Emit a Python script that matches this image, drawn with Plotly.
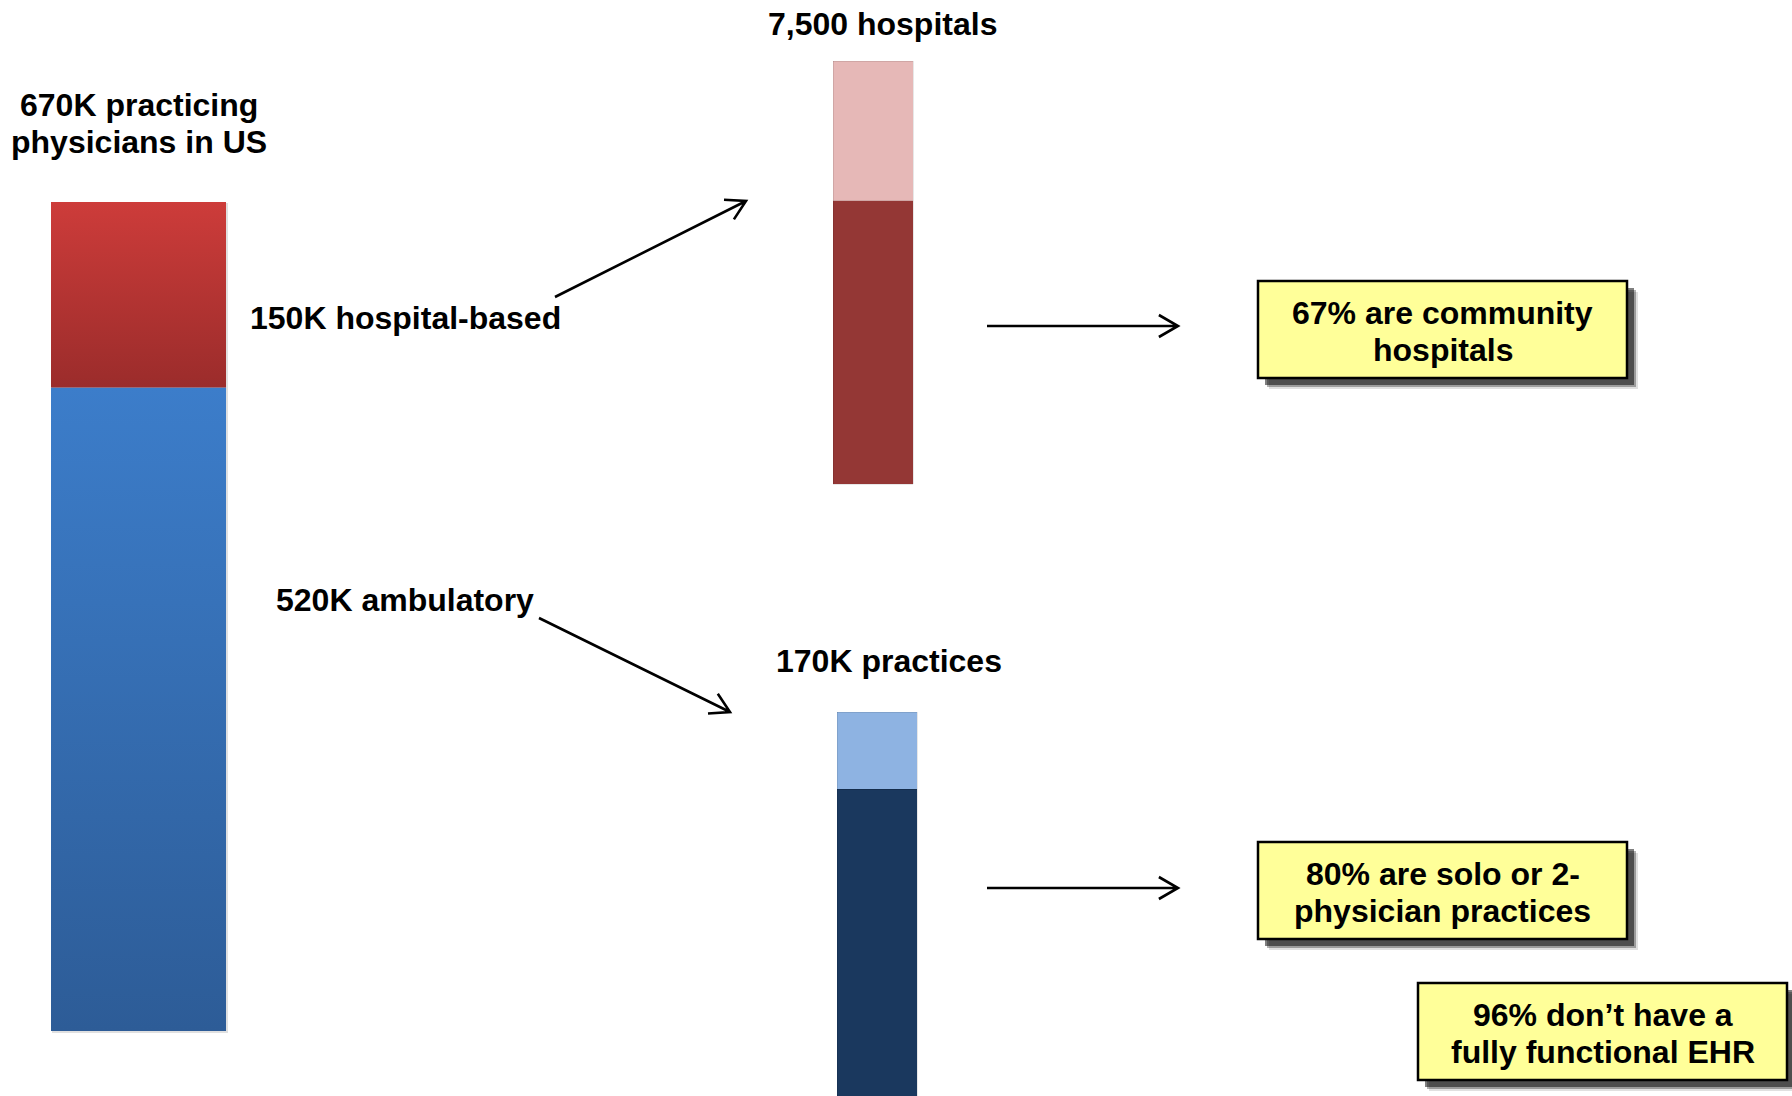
import math
import plotly.graph_objects as go

W, H = 1792, 1096

# ---------------- data ----------------
physician_segments = ["520K ambulatory", "150K hospital-based"]
physician_values = [520, 150]            # thousands of physicians (bottom -> top)
hospital_segments = ["Community hospitals", "Other hospitals"]
hospital_values = [5025, 2475]           # hospitals (67% community of 7,500)
practice_segments = ["Solo or 2-physician practices", "Other practices"]
practice_values = [136, 34]              # thousands of practices (80% of 170K)

title_physicians = ["670K practicing", "physicians in US"]
title_hospitals = "7,500 hospitals"
title_practices = "170K practices"
label_hospital_based = "150K hospital-based"
label_ambulatory = "520K ambulatory"
box_texts = [
    ["67% are community", "hospitals"],
    ["80% are solo or 2-", "physician practices"],
    ["96% don\u2019t have a", "fully functional EHR"],
]

# ---------------- styles / layout constants (pixels) ----------------
FONT = "Arial, Liberation Sans, Helvetica, sans-serif"
phys_grad = [("#2D5C97", "#3C7DCA"), ("#9B2C2B", "#CD3C3A")]   # (bottom, top)
hosp_colors = ["#943735", "#E6B8B7"]
prac_colors = ["#1A385E", "#8EB3E2"]

LEFT_X0, LEFT_X1, LEFT_BASE, LEFT_TOP = 51, 226, 1031, 202
HOSP_XC, HOSP_W, HOSP_BASE, HOSP_TOP = 873, 80, 484, 61
PRAC_XC, PRAC_W, PRAC_BASE, PRAC_TOP = 877, 80, 1097, 712
LINE_GAP = 37


def axis_range(total, base_px, top_px):
    k = (base_px - top_px) / total
    return [-(H - base_px) / k, base_px / k]


fig = go.Figure()

# left bar: stacked segments with vertical gradient
cum = 0
for name, val, (cb, ct) in zip(physician_segments, physician_values, phys_grad):
    y0, y1 = cum, cum + val
    fig.add_trace(go.Scatter(
        x=[LEFT_X0, LEFT_X1, LEFT_X1, LEFT_X0, LEFT_X0],
        y=[y0, y0, y1, y1, y0],
        mode="lines", fill="toself",
        fillgradient=dict(type="vertical", colorscale=[[0, cb], [1, ct]]),
        line=dict(width=0, color="rgba(0,0,0,0)"),
        name=name, showlegend=False, hoverinfo="name",
        yaxis="y",
    ))
    cum = y1

# hospital bar
for name, val, c in zip(hospital_segments, hospital_values, hosp_colors):
    fig.add_trace(go.Bar(
        x=[HOSP_XC], y=[val], width=[HOSP_W], name=name,
        marker=dict(color=c, line=dict(width=0.8, color="rgba(0,0,0,0.12)")),
        showlegend=False, yaxis="y2",
    ))

# practice bar
for name, val, c in zip(practice_segments, practice_values, prac_colors):
    fig.add_trace(go.Bar(
        x=[PRAC_XC], y=[val], width=[PRAC_W], name=name,
        marker=dict(color=c, line=dict(width=0.8, color="rgba(0,0,0,0.12)")),
        showlegend=False, yaxis="y3",
    ))

shapes = []

# soft shadow for left bar
shapes.append(dict(type="rect", xref="x", yref="y4",
                   x0=LEFT_X0 + 1, x1=LEFT_X1 + 2, y0=LEFT_TOP + 1, y1=LEFT_BASE + 2,
                   fillcolor="rgba(0,0,0,0.12)", line=dict(width=0), layer="below"))


def arrow(x0, y0, x1, y1, L=22, ang=30):
    dx, dy = x1 - x0, y1 - y0
    n = math.hypot(dx, dy)
    ux, uy = -dx / n, -dy / n
    a = math.radians(ang)
    w = []
    for s in (1, -1):
        c, si = math.cos(s * a), math.sin(s * a)
        w.append((x1 + L * (ux * c - uy * si), y1 + L * (ux * si + uy * c)))
    path = (f"M {x0},{y0} L {x1},{y1} M {w[0][0]:.1f},{w[0][1]:.1f} "
            f"L {x1},{y1} L {w[1][0]:.1f},{w[1][1]:.1f}")
    return dict(type="path", xref="x", yref="y4", path=path,
                line=dict(color="black", width=2.6))


shapes.append(arrow(555, 297, 746, 201))
shapes.append(arrow(539, 618, 730, 712))
shapes.append(arrow(987, 326, 1178, 326))
shapes.append(arrow(987, 888, 1178, 888))

boxes = [(1258, 1627, 281, 378), (1258, 1627, 842, 939), (1418, 1787, 983, 1080)]
for (bx0, bx1, by0, by1) in boxes:
    for off, alpha in ((11, 0.12), (9, 0.3), (7, 0.5)):
        shapes.append(dict(type="rect", xref="x", yref="y4",
                           x0=bx0 + off, x1=bx1 + off, y0=by0 + off, y1=by1 + off,
                           fillcolor=f"rgba(0,0,0,{alpha})", line=dict(width=0)))
    shapes.append(dict(type="rect", xref="x", yref="y4",
                       x0=bx0, x1=bx1, y0=by0, y1=by1,
                       fillcolor="#FFFF99", line=dict(color="black", width=2.5)))

annotations = []


def txt(text, x, y, xanchor="center"):
    annotations.append(dict(text=text, x=x, y=y, xref="x", yref="y4",
                            xanchor=xanchor, yanchor="middle", showarrow=False,
                            align="center",
                            font=dict(family=FONT, size=32, color="black", weight="bold")))


def lines(parts, x, yc):
    n = len(parts)
    for i, p in enumerate(parts):
        txt(p, x, yc + (i - (n - 1) / 2) * LINE_GAP)


lines(title_physicians, 138.5, 123)
txt(title_hospitals, 882, 24)
txt(title_practices, 889, 661)
txt(label_hospital_based, 248, 318, xanchor="left")
txt(label_ambulatory, 274, 600, xanchor="left")
for (bx0, bx1, by0, by1), t in zip(boxes, box_texts):
    lines(t, (bx0 + bx1) / 2, (by0 + by1) / 2 + 2)

hidden = dict(visible=False, showgrid=False, zeroline=False, fixedrange=True)
fig.update_layout(
    width=W, height=H,
    margin=dict(l=0, r=0, t=0, b=0),
    paper_bgcolor="white", plot_bgcolor="white",
    barmode="stack", showlegend=False,
    xaxis=dict(range=[0, W], **hidden),
    yaxis=dict(range=axis_range(sum(physician_values), LEFT_BASE, LEFT_TOP), **hidden),
    yaxis2=dict(range=axis_range(sum(hospital_values), HOSP_BASE, HOSP_TOP),
                overlaying="y", **hidden),
    yaxis3=dict(range=axis_range(sum(practice_values), PRAC_BASE, PRAC_TOP),
                overlaying="y", **hidden),
    yaxis4=dict(range=[H, 0], overlaying="y", **hidden),
    shapes=shapes,
    annotations=annotations,
)

fig.write_html("out.html")
